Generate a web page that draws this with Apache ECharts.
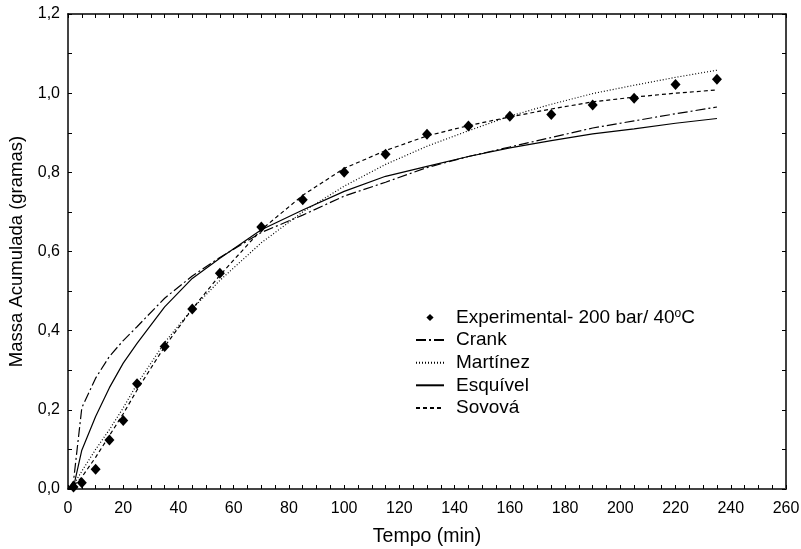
<!DOCTYPE html>
<html>
<head>
<meta charset="utf-8">
<script src="https://cdn.jsdelivr.net/npm/echarts@6/dist/echarts.min.js"></script>
<style>
  html, body { margin: 0; padding: 0; background: #fff; }
  #main { width: 801px; height: 549px; }
</style>
</head>
<body>
<div id="main"></div>
<script>
// pontos experimentais (min, g)
const tempoExp = [2, 5, 10, 15, 20, 25, 35, 45, 55, 70, 85, 100, 115, 130, 145, 160, 175, 190, 205, 220, 235];
const experimental = [0.005, 0.016, 0.05, 0.124, 0.173, 0.266, 0.36, 0.455, 0.545, 0.662, 0.731, 0.80, 0.846, 0.896, 0.917, 0.942, 0.946, 0.970, 0.987, 1.022, 1.035];

// curvas dos modelos
const tempoModelo = [0, 2, 5, 10, 15, 20, 25, 35, 45, 55, 70, 85, 100, 115, 130, 145, 160, 175, 190, 205, 220, 235];
const crank = [0, 0.02, 0.205, 0.28, 0.335, 0.375, 0.41, 0.482, 0.538, 0.585, 0.648, 0.692, 0.74, 0.775, 0.812, 0.84, 0.864, 0.888, 0.912, 0.93, 0.948, 0.965];
const martinez = [0, 0.01, 0.045, 0.1, 0.15, 0.205, 0.265, 0.37, 0.455, 0.527, 0.622, 0.70, 0.765, 0.82, 0.866, 0.905, 0.942, 0.972, 0.999, 1.02, 1.04, 1.058];
const esquivel = [0, 0.005, 0.098, 0.183, 0.256, 0.318, 0.368, 0.46, 0.532, 0.583, 0.655, 0.705, 0.752, 0.79, 0.815, 0.84, 0.862, 0.88, 0.897, 0.91, 0.924, 0.936];
const sovova = [0, 0.008, 0.03, 0.08, 0.135, 0.19, 0.25, 0.36, 0.455, 0.54, 0.655, 0.742, 0.81, 0.855, 0.892, 0.918, 0.94, 0.96, 0.978, 0.99, 1.0, 1.008];

const nomes = ['Experimental- 200 bar/ 40oC', 'Crank', 'Martínez', 'Esquível', 'Sovová'];

function pares(xs, ys) {
  return xs.map((x, i) => [x, ys[i]]);
}

const fonte = 'Arial, "Liberation Sans", sans-serif';

function eixoX(pos) {
  return {
    type: 'value', position: pos, min: 0, max: 260, interval: 20,
    axisLine: { show: true, onZero: false, lineStyle: { color: pos == 'bottom' ? '#444' : '#000', width: pos == 'bottom' ? 2 : 1.5 } },
    axisTick: { show: true, inside: true, length: 4, lineStyle: { color: '#000' } },
    minorTick: { show: true, splitNumber: 4, length: 4, lineStyle: { color: '#000' } },
    splitLine: { show: false },
    axisLabel: { show: pos == 'bottom', color: '#000', fontSize: 16, fontFamily: fonte, margin: 12 },
    name: pos == 'bottom' ? 'Tempo (min)' : '',
    nameLocation: 'middle', nameGap: 38,
    nameTextStyle: { color: '#000', fontSize: 19.5, fontFamily: fonte }
  };
}

function eixoY(pos) {
  return {
    type: 'value', position: pos, min: 0, max: 1.2, interval: 0.2,
    axisLine: { show: true, onZero: false, lineStyle: { color: pos == 'left' ? '#444' : '#000', width: pos == 'left' ? 2 : 1.5 } },
    axisTick: { show: true, inside: true, length: 4, lineStyle: { color: '#000' } },
    minorTick: { show: true, splitNumber: 2, length: 4, lineStyle: { color: '#000' } },
    splitLine: { show: false },
    axisLabel: {
      show: pos == 'left', color: '#000', fontSize: 16, fontFamily: fonte, margin: 8,
      formatter: v => v.toFixed(1).replace('.', ',')
    },
    name: pos == 'left' ? 'Massa Acumulada (gramas)' : '',
    nameLocation: 'middle', nameGap: 41,
    nameTextStyle: { color: '#000', fontSize: 18.5, fontFamily: fonte }
  };
}

function curva(nome, dados, tipo) {
  return {
    name: nome, type: 'line', data: pares(tempoModelo, dados),
    symbol: 'none', smooth: false, silent: true,
    lineStyle: { color: '#000', width: 1.2, type: tipo },
    itemStyle: { color: 'rgba(0,0,0,0)' }
  };
}

const chart = echarts.init(document.getElementById('main'));
chart.setOption({
  animation: false,
  backgroundColor: '#fff',
  grid: { left: 68, right: 15, top: 14, bottom: 60, outerBoundsMode: 'none', containLabel: false },
  xAxis: [eixoX('bottom'), eixoX('top')],
  yAxis: [eixoY('left'), eixoY('right')],
  legend: {
    orient: 'vertical', left: 410, top: 303, itemWidth: 28, itemHeight: 9, itemGap: 3.6,
    data: nomes,
    textStyle: {
      color: '#000', fontSize: 19, lineHeight: 19, fontFamily: fonte, padding: [0, 0, 0, 7],
      rich: { sup: { fontSize: 12, lineHeight: 19, verticalAlign: 'top', padding: [0, 0, 6, 0], color: '#000', fontFamily: fonte } }
    },
    formatter: n => n.replace('40oC', '40{sup|o}C')
  },
  series: [
    {
      name: nomes[0], type: 'line', data: pares(tempoExp, experimental),
      symbol: 'diamond', symbolSize: [10, 11], showSymbol: true, silent: true,
      lineStyle: { color: 'rgba(0,0,0,0)', width: 0 },
      itemStyle: { color: '#000' }, z: 5
    },
    curva(nomes[1], crank, [10, 3, 2, 3]),
    curva(nomes[2], martinez, [1, 2]),
    curva(nomes[3], esquivel, 'solid'),
    curva(nomes[4], sovova, [4, 3])
  ]
});
</script>
</body>
</html>
